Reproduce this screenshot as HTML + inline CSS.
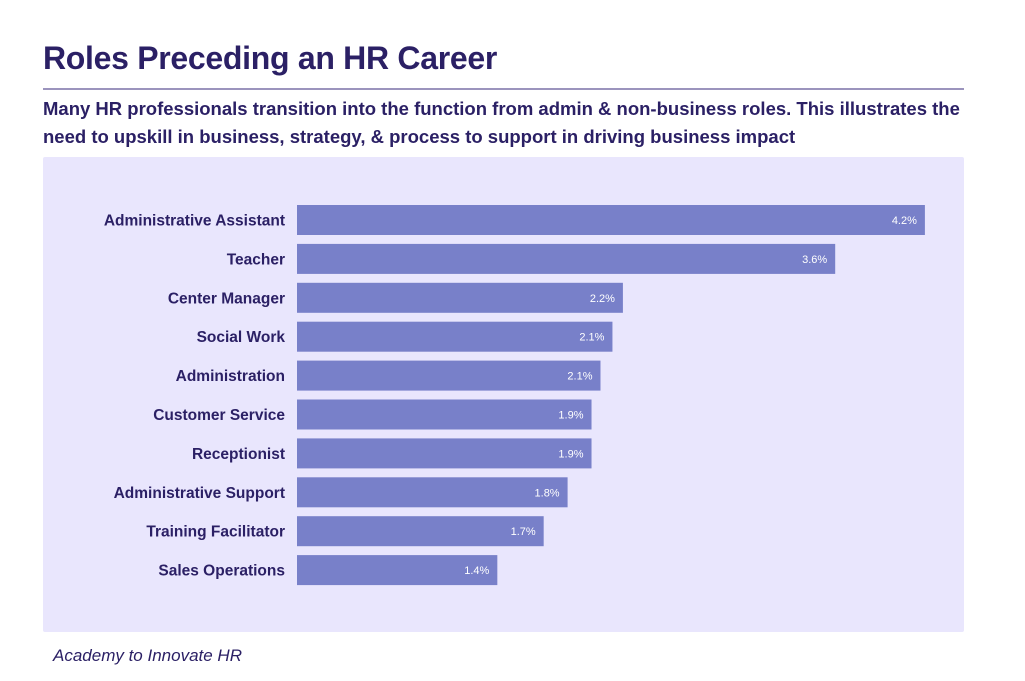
<!DOCTYPE html>
<html><head><meta charset="utf-8"><style>
body{margin:0;width:1025px;height:681px;background:#fff;font-family:"Liberation Sans",sans-serif;color:#2b2065;position:relative;overflow:hidden}
#title{position:absolute;left:43px;top:40px;font-size:32px;font-weight:bold;letter-spacing:-0.3px;margin:0}
#rule{position:absolute;left:43px;top:88px;width:921px;height:2px;background:#9b94bd}
#sub{position:absolute;left:43px;top:95px;width:935px;font-size:18.5px;font-weight:bold;line-height:28px}
#panel{position:absolute;left:43px;top:157px;width:921px;height:475px;background:#e9e6fd;border-radius:2px}
#src{position:absolute;left:53px;top:646px;font-size:17px;font-style:italic}
svg{position:absolute;left:0;top:0}
</style></head><body>
<h1 id="title">Roles Preceding an HR Career</h1>
<div id="rule"></div>
<div id="sub">Many HR professionals transition into the function from admin &amp; non-business roles. This illustrates the need to upskill in business, strategy, &amp; process to support in driving business impact</div>
<div id="panel"></div>
<svg id="chart" width="1025" height="681"></svg>
<div id="src">Academy to Innovate HR</div>
<script>
const categories=["Administrative Assistant","Teacher","Center Manager","Social Work","Administration","Customer Service","Receptionist","Administrative Support","Training Facilitator","Sales Operations"];
const values=[4.2,3.6,2.18,2.11,2.03,1.97,1.97,1.81,1.65,1.34];
const valueLabels=["4.2%","3.6%","2.2%","2.1%","2.1%","1.9%","1.9%","1.8%","1.7%","1.4%"];
const svg=document.getElementById('chart');
const NS="http://www.w3.org/2000/svg";
const x0=297,pxPer=149.5;
function xScale(v){return x0+v*pxPer;}
function yScale(i){return 205+i*38.9;}
const bh=30;
categories.forEach((c,i)=>{
  const y=yScale(i);
  const r=document.createElementNS(NS,'rect');
  r.setAttribute('x',x0);r.setAttribute('y',y);
  r.setAttribute('width',xScale(values[i])-x0);r.setAttribute('height',bh);
  r.setAttribute('fill','#7880c9');
  
  
  svg.appendChild(r);
  const t=document.createElementNS(NS,'text');
  t.setAttribute('x',285);t.setAttribute('y',y+bh/2+5.5);
  t.setAttribute('text-anchor','end');t.setAttribute('font-size','15.5');
  t.setAttribute('font-weight','bold');t.setAttribute('fill','#2b2065');
  t.setAttribute('font-family','Liberation Sans, sans-serif');
  t.textContent=c;
  
  
  svg.appendChild(t);
  const v=document.createElementNS(NS,'text');
  v.setAttribute('x',xScale(values[i])-8);v.setAttribute('y',y+bh/2+4);
  v.setAttribute('text-anchor','end');v.setAttribute('font-size','11');
  v.setAttribute('fill','#ffffff');
  v.setAttribute('font-family','Liberation Sans, sans-serif');
  v.textContent=valueLabels[i];
  
  
  svg.appendChild(v);
});
</script>
</body></html>
